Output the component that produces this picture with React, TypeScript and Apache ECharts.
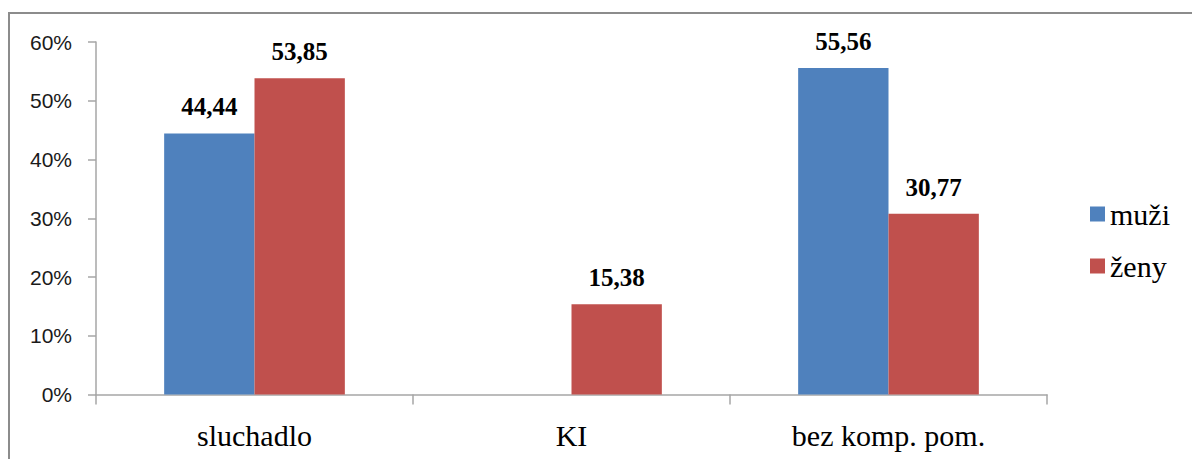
import React, { useEffect, useRef } from "react";
import * as echarts from "echarts";

const categories = ["sluchadlo", "KI", "bez komp. pom."];
const muzi = [44.44, 0, 55.56];
const zeny = [53.85, 15.38, 30.77];
const seriesNames = ["muži", "ženy"];
const yTicksMax = 60;
const yTickStep = 10;

const SERIF = "'Liberation Serif', 'Times New Roman', serif";

const fmtLabel = (p: any) =>
  p.value === 0 ? "" : Number(p.value).toFixed(2).replace(".", ",");

export default function App() {
  const ref = useRef<HTMLDivElement>(null);
  useEffect(() => {
    if (!ref.current) return;
    const chart = echarts.init(ref.current, null, { renderer: "svg" });
    const labelStyle = {
      show: true,
      position: "top" as const,
      distance: 14,
      formatter: fmtLabel,
      fontFamily: SERIF,
      fontWeight: "bold" as const,
      fontSize: 25,
      color: "#000",
    };
    chart.setOption({
      animation: false,
      backgroundColor: "#fff",
      graphic: [
        {
          type: "rect",
          shape: { x: 9, y: 13, width: 1200, height: 470 },
          style: { fill: "none", stroke: "#8c8c8c", lineWidth: 2 },
          silent: true,
        },
      ],
      grid: { left: 96, right: 145, top: 42, bottom: 64.5, containLabel: false },
      legend: {
        orient: "vertical",
        left: 1090,
        top: 199,
        padding: 0,
        itemWidth: 15,
        itemHeight: 15,
        itemGap: 22,
        icon: "rect",
        textStyle: {
          fontFamily: SERIF,
          fontSize: 30,
          color: "#000",
          lineHeight: 30,
        },
        data: seriesNames,
      },
      xAxis: {
        type: "category",
        data: categories,
        axisLine: { show: true, lineStyle: { color: "#a6a6a6", width: 1.5 } },
        axisTick: { show: true, length: 10, alignWithLabel: false, lineStyle: { color: "#a6a6a6", width: 1.5 } },
        axisLabel: {
          margin: 26,
          fontFamily: SERIF,
          fontSize: 30,
          color: "#000",
        },
        splitLine: { show: false },
      },
      yAxis: {
        type: "value",
        min: 0,
        max: yTicksMax,
        interval: yTickStep,
        axisLine: { show: true, lineStyle: { color: "#a6a6a6", width: 1.5 } },
        axisTick: { show: true, length: 8, lineStyle: { color: "#a6a6a6", width: 1.5 } },
        axisLabel: {
          margin: 24,
          formatter: "{value}%",
          fontFamily: "'Liberation Sans', Arial, sans-serif",
          fontSize: 21,
          color: "#1a1a1a",
        },
        splitLine: { show: false },
      },
      series: [
        {
          name: seriesNames[0],
          type: "bar",
          data: muzi,
          barGap: "0%",
          barCategoryGap: "43%",
          itemStyle: { color: "#4F81BD" },
          label: labelStyle,
        },
        {
          name: seriesNames[1],
          type: "bar",
          data: zeny,
          barGap: "0%",
          barCategoryGap: "43%",
          itemStyle: { color: "#C0504D" },
          label: labelStyle,
        },
      ],
    });
    return () => chart.dispose();
  }, []);
  return (
    <div
      ref={ref}
      style={{ position: "fixed", left: 0, top: 0, width: 1192, height: 459 }}
    />
  );
}
